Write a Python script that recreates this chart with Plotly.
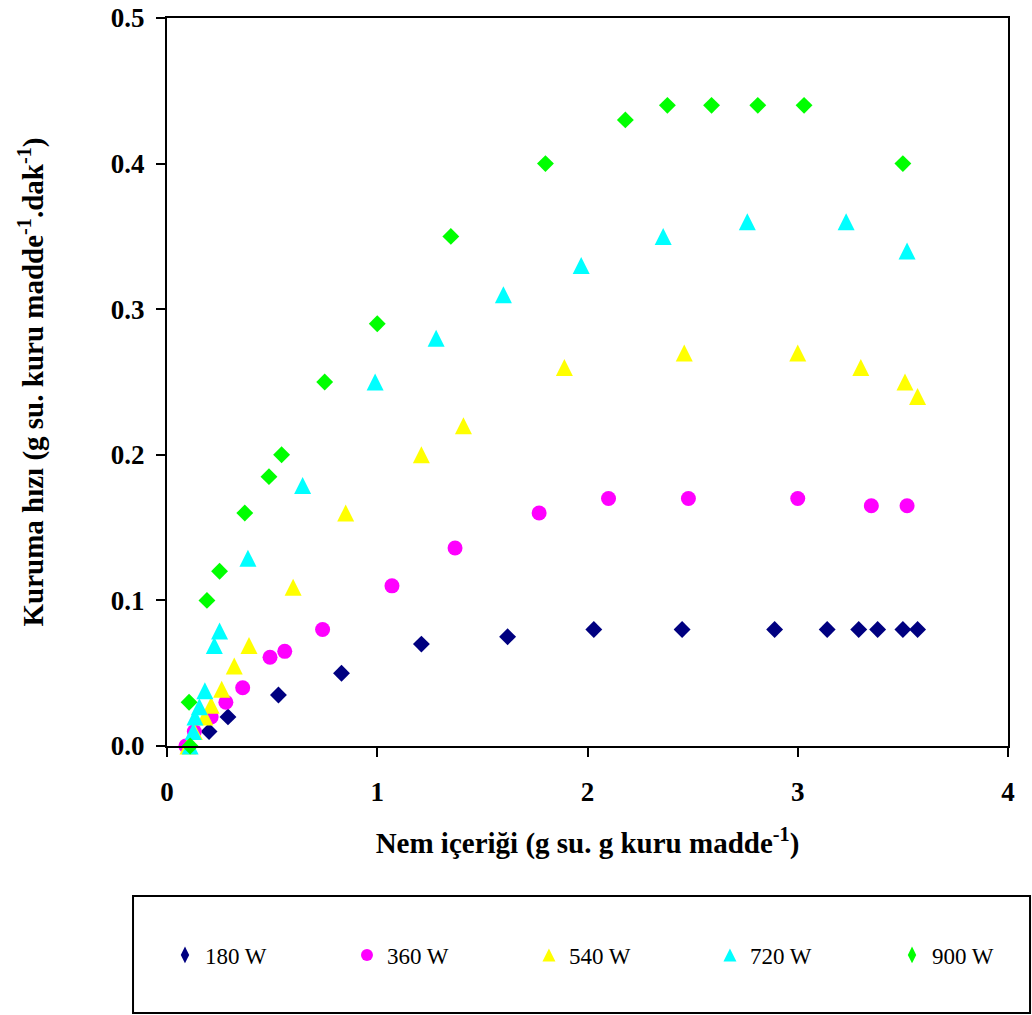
import plotly.graph_objects as go

# Drying rate vs. moisture content for five microwave power levels
x_180 = [0.20, 0.29, 0.53, 0.83, 1.21, 1.62, 2.03, 2.45, 2.89, 3.14, 3.29, 3.38, 3.50, 3.57]
y_180 = [0.010, 0.020, 0.035, 0.050, 0.070, 0.075, 0.080, 0.080, 0.080, 0.080, 0.080, 0.080, 0.080, 0.080]

x_360 = [0.09, 0.13, 0.21, 0.28, 0.36, 0.49, 0.56, 0.74, 1.07, 1.37, 1.77, 2.10, 2.48, 3.00, 3.35, 3.52]
y_360 = [0.000, 0.010, 0.020, 0.030, 0.040, 0.061, 0.065, 0.080, 0.110, 0.136, 0.160, 0.170, 0.170, 0.170, 0.165, 0.165]

x_540 = [0.10, 0.13, 0.18, 0.21, 0.26, 0.32, 0.39, 0.60, 0.85, 1.21, 1.41, 1.89, 2.46, 3.00, 3.30, 3.51, 3.57]
y_540 = [0.000, 0.010, 0.020, 0.028, 0.039, 0.055, 0.069, 0.109, 0.160, 0.200, 0.220, 0.260, 0.270, 0.270, 0.260, 0.250, 0.240]

x_720 = [0.11, 0.125, 0.133, 0.154, 0.18, 0.225, 0.25, 0.385, 0.645, 0.99, 1.28, 1.60, 1.97, 2.36, 2.76, 3.23, 3.52]
y_720 = [0.000, 0.010, 0.020, 0.027, 0.038, 0.069, 0.079, 0.129, 0.179, 0.250, 0.280, 0.310, 0.330, 0.350, 0.360, 0.360, 0.340]

x_900 = [0.11, 0.105, 0.19, 0.25, 0.37, 0.485, 0.545, 0.75, 1.00, 1.35, 1.80, 2.18, 2.38, 2.59, 2.81, 3.03, 3.50]
y_900 = [0.000, 0.030, 0.100, 0.120, 0.160, 0.185, 0.200, 0.250, 0.290, 0.350, 0.400, 0.430, 0.440, 0.440, 0.440, 0.440, 0.400]

series_names = ["180 W", "360 W", "540 W", "720 W", "900 W"]
series_colors = ["#000080", "#FF00FF", "#FFFF00", "#00FFFF", "#00FF00"]

x_ticks = [0, 1, 2, 3, 4]
y_ticks = [0.0, 0.1, 0.2, 0.3, 0.4, 0.5]

SERIF = "Liberation Serif, Times New Roman, serif"

# Plot-area markers: upright triangles are built from a rotated arrow so that
# they are as tall as they are wide and centred on the data point.
plot_markers = [
    dict(symbol="diamond", size=13),
    dict(symbol="circle", size=15),
    dict(symbol="arrow-down", angle=180, standoff=8.5, size=17),
    dict(symbol="arrow-down", angle=180, standoff=8.5, size=17),
    dict(symbol="diamond", size=13),
]
# Narrow legend keys
legend_markers = [
    dict(symbol="diamond-tall", size=12),
    dict(symbol="circle", size=12),
    dict(symbol="arrow-up", standoff=6.5, size=13),
    dict(symbol="arrow-up", standoff=6.5, size=13),
    dict(symbol="diamond-tall", size=12),
]
legend_ids = ["legend", "legend2", "legend3", "legend4", "legend5"]
legend_x = [-0.0024, 0.2140, 0.4304, 0.6456, 0.8621]

fig = go.Figure()

for xs, ys, name, color, ms in zip(
    [x_180, x_360, x_540, x_720, x_900],
    [y_180, y_360, y_540, y_720, y_900],
    series_names, series_colors, plot_markers,
):
    fig.add_trace(go.Scatter(
        x=xs, y=ys, mode="markers", name=name, showlegend=False,
        marker=dict(color=color, line=dict(width=0), **ms),
        cliponaxis=False,
    ))

# One legend per series so each key sits at its own spot in the frame
for name, color, ms, lid in zip(series_names, series_colors, legend_markers, legend_ids):
    fig.add_trace(go.Scatter(
        x=[None], y=[None], mode="markers", name=name, legend=lid,
        marker=dict(color=color, line=dict(width=0), **ms),
    ))

axis_common = dict(
    showgrid=False, zeroline=False, automargin=False,
    showline=True, linecolor="black", linewidth=2, mirror=True,
    ticks="outside", ticklen=9, tickwidth=2, tickcolor="black",
    tickfont=dict(family=SERIF, size=27, color="black", weight="bold"),
)

fig.update_xaxes(
    range=[0, 4], tickvals=x_ticks, ticktext=[str(v) for v in x_ticks],
    ticklabelstandoff=12,
    title=dict(text="Nem içeriği (g su. g kuru madde<sup>-1</sup>)",
               font=dict(family=SERIF, size=29, color="black", weight="bold"),
               standoff=26),
    **axis_common,
)
fig.update_yaxes(
    range=[0, 0.5], tickvals=y_ticks, ticktext=[f"{v:.1f}" for v in y_ticks],
    ticklabelstandoff=6,
    title=dict(text="Kuruma hızı (g su. kuru madde<sup>-1</sup>.dak<sup>-1</sup>)",
               font=dict(family=SERIF, size=29, color="black", weight="bold"),
               standoff=59),
    **axis_common,
)

# Legend frame below the plot
fig.add_shape(type="rect", xref="paper", yref="paper",
              x0=-0.0404, x1=1.0262, y0=-0.3668, y1=-0.206,
              line=dict(color="black", width=2), fillcolor="rgba(0,0,0,0)")

legend_style = dict(
    orientation="h", xanchor="left", y=-0.287, yanchor="middle",
    itemwidth=30, font=dict(family=SERIF, size=23, color="black"),
    bgcolor="rgba(0,0,0,0)", borderwidth=0,
)

fig.update_layout(
    width=1032, height=1015,
    margin=dict(l=167, r=24, t=18, b=269, autoexpand=False),
    paper_bgcolor="white", plot_bgcolor="white",
    showlegend=True,
    **{lid: dict(x=lx, **legend_style) for lid, lx in zip(legend_ids, legend_x)},
)

fig.write_html("out.html")
